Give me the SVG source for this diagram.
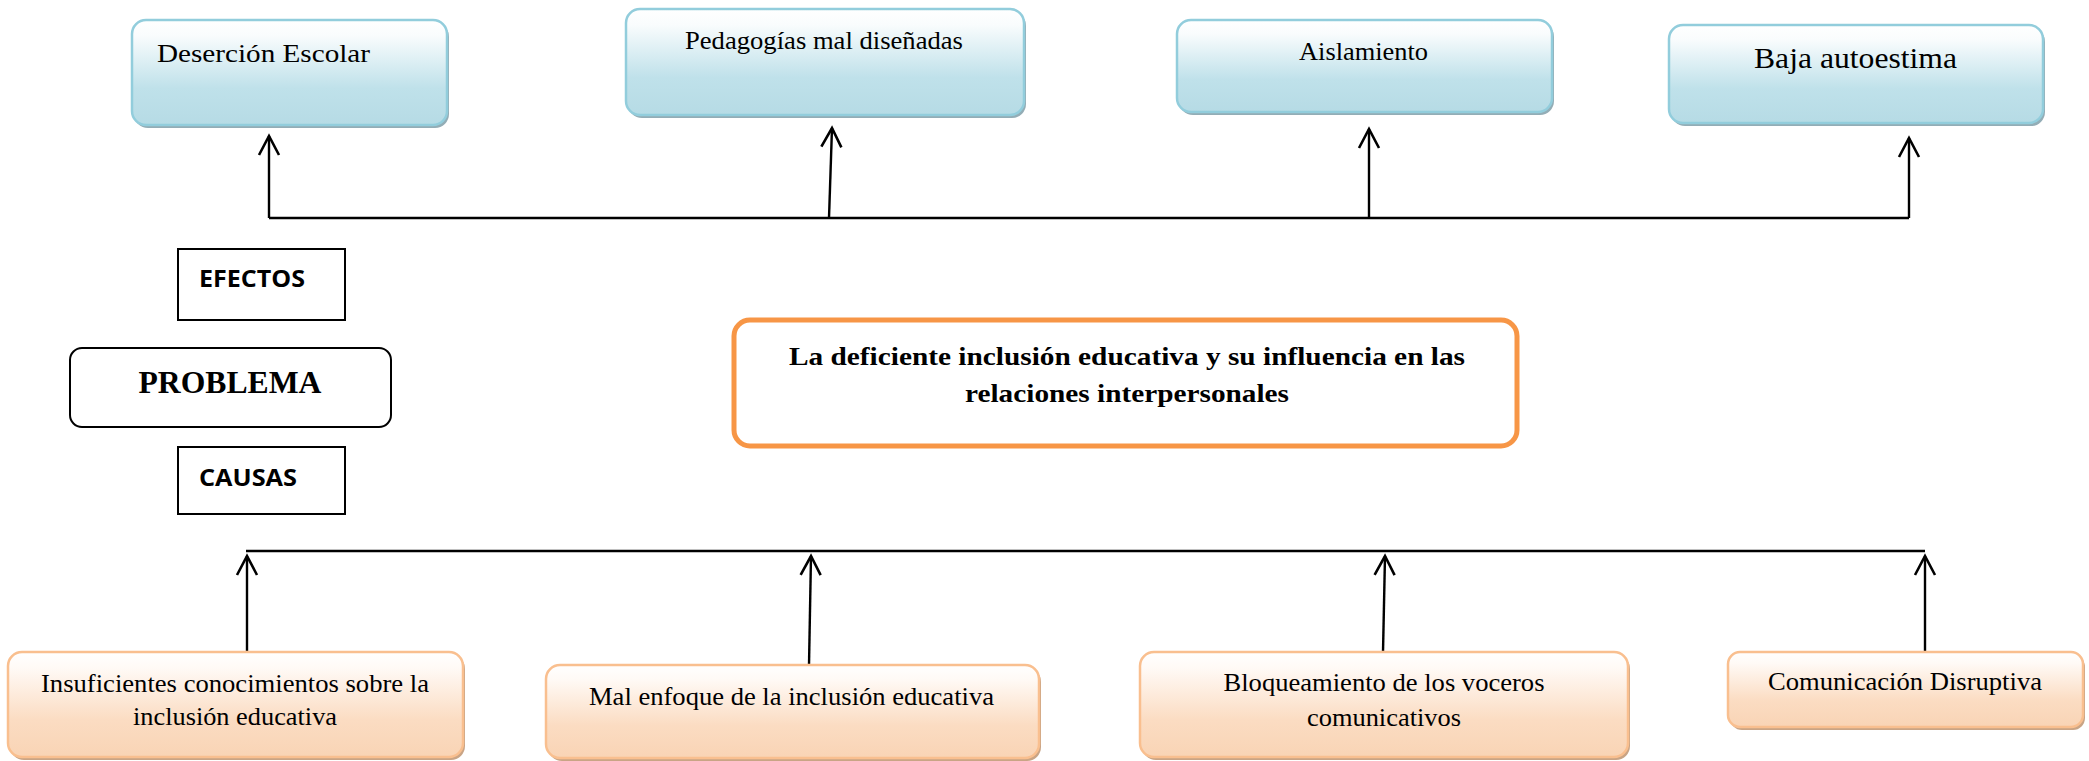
<svg xmlns="http://www.w3.org/2000/svg" width="2089" height="761" viewBox="0 0 2089 761">
<defs>
<linearGradient id="gBlue" x1="0" y1="0" x2="0" y2="1">
<stop offset="0" stop-color="#ffffff"/>
<stop offset="0.15" stop-color="#f9fcfd"/>
<stop offset="0.65" stop-color="#bfe1ea"/>
<stop offset="1" stop-color="#b6dbe5"/>
</linearGradient>
<linearGradient id="gPeach" x1="0" y1="0" x2="0" y2="1">
<stop offset="0" stop-color="#ffffff"/>
<stop offset="0.15" stop-color="#fffaf6"/>
<stop offset="0.65" stop-color="#fbdcc2"/>
<stop offset="1" stop-color="#f9d4b5"/>
</linearGradient>
<marker id="arr" viewBox="0 0 24 24" refX="21" refY="12" markerWidth="24" markerHeight="24" markerUnits="userSpaceOnUse" orient="auto">
<path d="M2 2 L21 12 L2 22" fill="none" stroke="#000" stroke-width="2.6" stroke-linejoin="miter"/>
</marker>
</defs>
<style>
.blue{fill:url(#gBlue);stroke:#92cddc;stroke-width:2.5}
.bshadow{fill:#93adb6}
.peach{fill:url(#gPeach);stroke:#f9bf8f;stroke-width:2.5}
.pshadow{fill:#c9a485}
.t{font-family:"Liberation Serif","Times New Roman",serif;fill:#000}
.tb{font-family:"Liberation Serif","Times New Roman",serif;font-weight:bold;fill:#000}
.ts{font-family:"Open Sans","Liberation Sans",Arial,sans-serif;font-weight:bold;fill:#000}
.ln{stroke:#000;stroke-width:2.4;fill:none}
.box{fill:#fff;stroke:#000;stroke-width:2}
</style>

<g id="connectors">
<polyline class="ln" points="269,218 1909,218"/>
<line class="ln" x1="269" y1="218" x2="269" y2="136" marker-end="url(#arr)"/>
<line class="ln" x1="829" y1="218" x2="832" y2="128" marker-end="url(#arr)"/>
<line class="ln" x1="1369" y1="218" x2="1369" y2="129" marker-end="url(#arr)"/>
<line class="ln" x1="1909" y1="218" x2="1909" y2="138" marker-end="url(#arr)"/>
<polyline class="ln" points="246,551 1925,551"/>
<line class="ln" x1="247" y1="652" x2="247" y2="556" marker-end="url(#arr)"/>
<line class="ln" x1="809" y1="665" x2="811" y2="556" marker-end="url(#arr)"/>
<line class="ln" x1="1383" y1="652" x2="1385" y2="556" marker-end="url(#arr)"/>
<line class="ln" x1="1925" y1="652" x2="1925" y2="556" marker-end="url(#arr)"/>
</g>

<g id="desercion">
<rect class="bshadow" x="134" y="23" width="315" height="105" rx="14"/>
<rect class="blue" x="132" y="20" width="315" height="105" rx="14"/>
<text class="t" x="157" y="62" font-size="25" textLength="213" lengthAdjust="spacingAndGlyphs">Deserción Escolar</text>
</g>
<g id="pedagogias">
<rect class="bshadow" x="628" y="12" width="398" height="106" rx="14"/>
<rect class="blue" x="626" y="9" width="398" height="106" rx="14"/>
<text class="t" x="685" y="49" font-size="25" textLength="278" lengthAdjust="spacingAndGlyphs">Pedagogías mal diseñadas</text>
</g>
<g id="aislamiento">
<rect class="bshadow" x="1179" y="23" width="375" height="92" rx="14"/>
<rect class="blue" x="1177" y="20" width="375" height="92" rx="14"/>
<text class="t" x="1299" y="60" font-size="25" textLength="129" lengthAdjust="spacingAndGlyphs">Aislamiento</text>
</g>
<g id="autoestima">
<rect class="bshadow" x="1671" y="28" width="374" height="98" rx="14"/>
<rect class="blue" x="1669" y="25" width="374" height="98" rx="14"/>
<text class="t" x="1754" y="68" font-size="30" textLength="203" lengthAdjust="spacingAndGlyphs">Baja autoestima</text>
</g>

<g id="efectos">
<rect class="box" x="178" y="249" width="167" height="71"/>
<text class="ts" x="199" y="287" font-size="23" textLength="106" lengthAdjust="spacingAndGlyphs">EFECTOS</text>
</g>
<g id="problema">
<rect class="box" x="70" y="348" width="321" height="79" rx="12"/>
<text class="tb" x="230" y="393" font-size="31" text-anchor="middle" textLength="183" lengthAdjust="spacingAndGlyphs">PROBLEMA</text>
</g>
<g id="causas">
<rect class="box" x="178" y="447" width="167" height="67"/>
<text class="ts" x="199" y="486" font-size="23" textLength="98" lengthAdjust="spacingAndGlyphs">CAUSAS</text>
</g>

<g id="tema">
<rect x="734" y="320" width="783" height="126" rx="16" fill="#fff" stroke="#f79646" stroke-width="5"/>
<text class="tb" x="1127" y="365" font-size="26" text-anchor="middle" textLength="676" lengthAdjust="spacingAndGlyphs">La deficiente inclusión educativa y su influencia en las</text>
<text class="tb" x="1127" y="402" font-size="26" text-anchor="middle" textLength="324" lengthAdjust="spacingAndGlyphs">relaciones interpersonales</text>
</g>

<g id="insuficientes">
<rect class="pshadow" x="10" y="655" width="455" height="105" rx="14"/>
<rect class="peach" x="8" y="652" width="455" height="105" rx="14"/>
<text class="t" x="235" y="692" font-size="25" text-anchor="middle" textLength="388" lengthAdjust="spacingAndGlyphs">Insuficientes conocimientos sobre la</text>
<text class="t" x="235" y="725" font-size="25" text-anchor="middle" textLength="204" lengthAdjust="spacingAndGlyphs">inclusión educativa</text>
</g>
<g id="enfoque">
<rect class="pshadow" x="548" y="668" width="493" height="93" rx="14"/>
<rect class="peach" x="546" y="665" width="493" height="93" rx="14"/>
<text class="t" x="589" y="705" font-size="25" textLength="405" lengthAdjust="spacingAndGlyphs">Mal enfoque de la inclusión educativa</text>
</g>
<g id="bloqueamiento">
<rect class="pshadow" x="1142" y="655" width="488" height="105" rx="14"/>
<rect class="peach" x="1140" y="652" width="488" height="105" rx="14"/>
<text class="t" x="1384" y="691" font-size="25" text-anchor="middle" textLength="321" lengthAdjust="spacingAndGlyphs">Bloqueamiento de los voceros</text>
<text class="t" x="1384" y="726" font-size="25" text-anchor="middle" textLength="154" lengthAdjust="spacingAndGlyphs">comunicativos</text>
</g>
<g id="disruptiva">
<rect class="pshadow" x="1730" y="655" width="355" height="75" rx="12"/>
<rect class="peach" x="1728" y="652" width="355" height="75" rx="12"/>
<text class="t" x="1768" y="690" font-size="25" textLength="274" lengthAdjust="spacingAndGlyphs">Comunicación Disruptiva</text>
</g>
</svg>
